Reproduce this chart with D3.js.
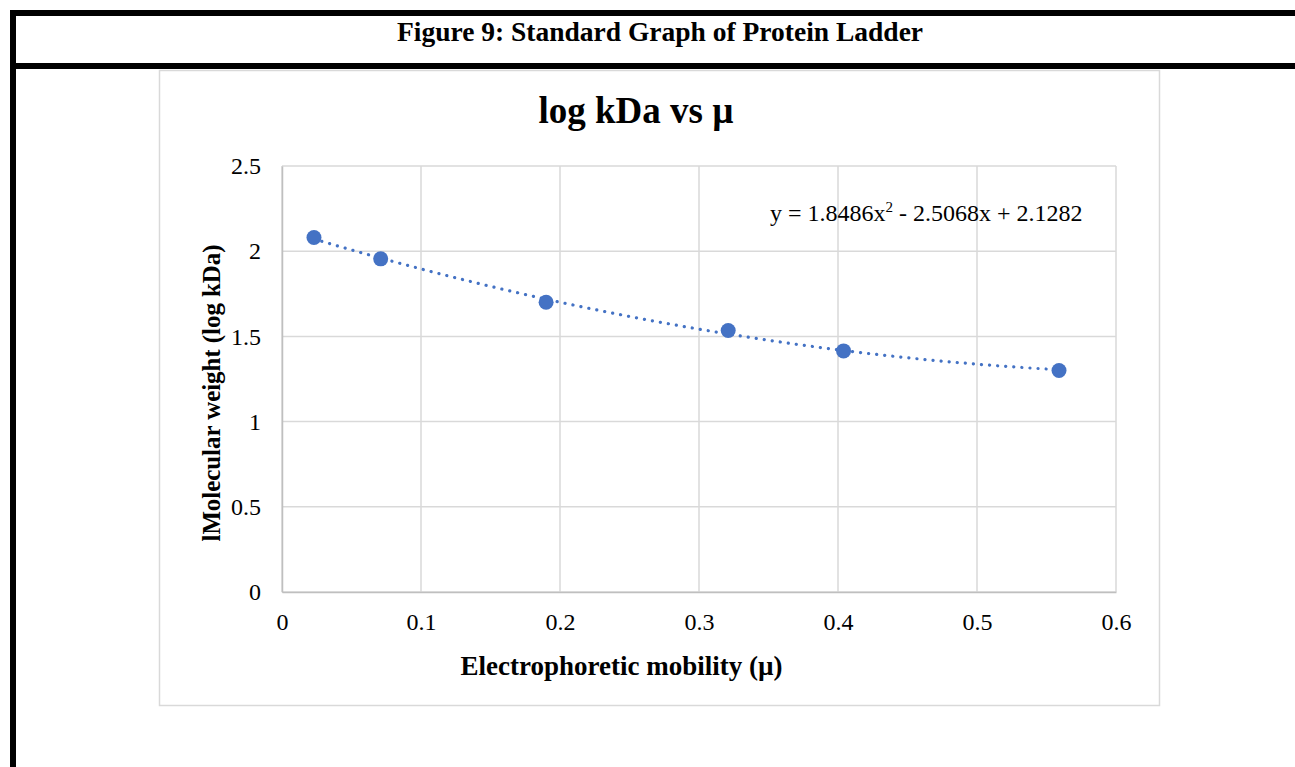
<!doctype html>
<html lang="en">
<head>
<meta charset="utf-8">
<title>Standard Graph of Protein Ladder</title>
<script src="https://d3js.org/d3.v7.min.js"></script>
<style>
  body { margin: 0; background: white; }
  svg { display: block; }
  .tick text { font-family: "Liberation Serif", "Times New Roman", serif; font-size: 24px; fill: #000; }
</style>
</head>
<body>
<svg id="chart" width="1295" height="767"></svg>
<script>
// data
var mobility = [0.023, 0.071, 0.19, 0.321, 0.404, 0.559];
var logKDa = [2.08, 1.955, 1.70, 1.535, 1.415, 1.30];
// trendline coefficients as printed on the chart (a, b, c for ax^2 + bx + c)
var trendCoef = [1.8486, -2.5068, 2.1282];
var xTicks = [0, 0.1, 0.2, 0.3, 0.4, 0.5, 0.6];
var yTicks = [0, 0.5, 1, 1.5, 2, 2.5];

var svg = d3.select("#chart");
var serif = "'Liberation Serif', 'Times New Roman', serif";

// table frame around the figure
svg.append("rect").attr("x", 10).attr("y", 10).attr("width", 1295).attr("height", 6).attr("fill", "#000");
svg.append("rect").attr("x", 10).attr("y", 63).attr("width", 1295).attr("height", 6).attr("fill", "#000");
svg.append("rect").attr("x", 10).attr("y", 10).attr("width", 6).attr("height", 767).attr("fill", "#000");
svg.append("text").attr("x", 660).attr("y", 41).attr("text-anchor", "middle")
  .attr("font-family", serif).attr("font-weight", "bold").attr("font-size", 27.5)
  .text("Figure 9: Standard Graph of Protein Ladder");

// chart area border
svg.append("rect").attr("x", 159.5).attr("y", 70.5).attr("width", 1000).attr("height", 635)
  .attr("fill", "white").attr("stroke", "#d9d9d9").attr("stroke-width", 1.5);

var x = d3.scaleLinear().domain([0, 0.6]).range([282, 1116]);
var y = d3.scaleLinear().domain([0, 2.5]).range([592, 166]);

// gridlines
svg.append("g").selectAll("line").data(xTicks).enter().append("line")
  .attr("x1", function(d) { return x(d); }).attr("x2", function(d) { return x(d); })
  .attr("y1", y(0)).attr("y2", y(2.5)).attr("stroke", "#d9d9d9").attr("stroke-width", 1.5);
svg.append("g").selectAll("line").data(yTicks).enter().append("line")
  .attr("x1", x(0)).attr("x2", x(0.6))
  .attr("y1", function(d) { return y(d); }).attr("y2", function(d) { return y(d); })
  .attr("stroke", "#d9d9d9").attr("stroke-width", 1.5);

// axes
var xAxis = svg.append("g").attr("transform", "translate(0," + y(0) + ")")
  .call(d3.axisBottom(x).tickValues(xTicks).tickSize(0).tickPadding(21).tickFormat(d3.format("")));
xAxis.select(".domain").attr("stroke", "#bfbfbf").attr("stroke-width", 1.5);
var yAxis = svg.append("g").attr("transform", "translate(" + x(0) + ",0)")
  .call(d3.axisLeft(y).tickValues(yTicks).tickSize(0).tickPadding(21).tickFormat(d3.format("")));
yAxis.select(".domain").attr("stroke", "#bfbfbf").attr("stroke-width", 1.5);

// trendline
var ext = d3.extent(mobility);
var trendPts = d3.range(0, 61).map(function(i) {
  var m = ext[0] + (ext[1] - ext[0]) * i / 60;
  return [m, trendCoef[0] * m * m + trendCoef[1] * m + trendCoef[2]];
});
svg.append("path").datum(trendPts)
  .attr("d", d3.line().x(function(d) { return x(d[0]); }).y(function(d) { return y(d[1]); }))
  .attr("fill", "none").attr("stroke", "#4472c4").attr("stroke-width", 3.2)
  .attr("stroke-linecap", "round").attr("stroke-dasharray", "0.1 8");

// points
svg.append("g").selectAll("circle").data(mobility).enter().append("circle")
  .attr("cx", function(d) { return x(d); })
  .attr("cy", function(d, i) { return y(logKDa[i]); })
  .attr("r", 7.5).attr("fill", "#4472c4");

// titles
svg.append("text").attr("x", 636).attr("y", 123).attr("text-anchor", "middle")
  .attr("font-family", serif).attr("font-weight", "bold").attr("font-size", 37)
  .text("log kDa vs \u00b5");
svg.append("text").attr("x", 621.5).attr("y", 675).attr("text-anchor", "middle")
  .attr("font-family", serif).attr("font-weight", "bold").attr("font-size", 27)
  .text("Electrophoretic mobility (\u00b5)");
svg.append("text").attr("transform", "translate(220,393) rotate(-90)").attr("text-anchor", "middle")
  .attr("font-family", serif).attr("font-weight", "bold").attr("font-size", 26)
  .attr("textLength", 297).attr("lengthAdjust", "spacingAndGlyphs")
  .text("lMolecular weight (log kDa)");

// equation label
var eq = svg.append("text").attr("x", 770).attr("y", 221)
  .attr("font-family", serif).attr("font-size", 24);
eq.append("tspan").text("y = 1.8486x");
eq.append("tspan").attr("dy", -9).attr("font-size", 15).text("2");
eq.append("tspan").attr("dy", 9).text(" - 2.5068x + 2.1282");
</script>
</body>
</html>
